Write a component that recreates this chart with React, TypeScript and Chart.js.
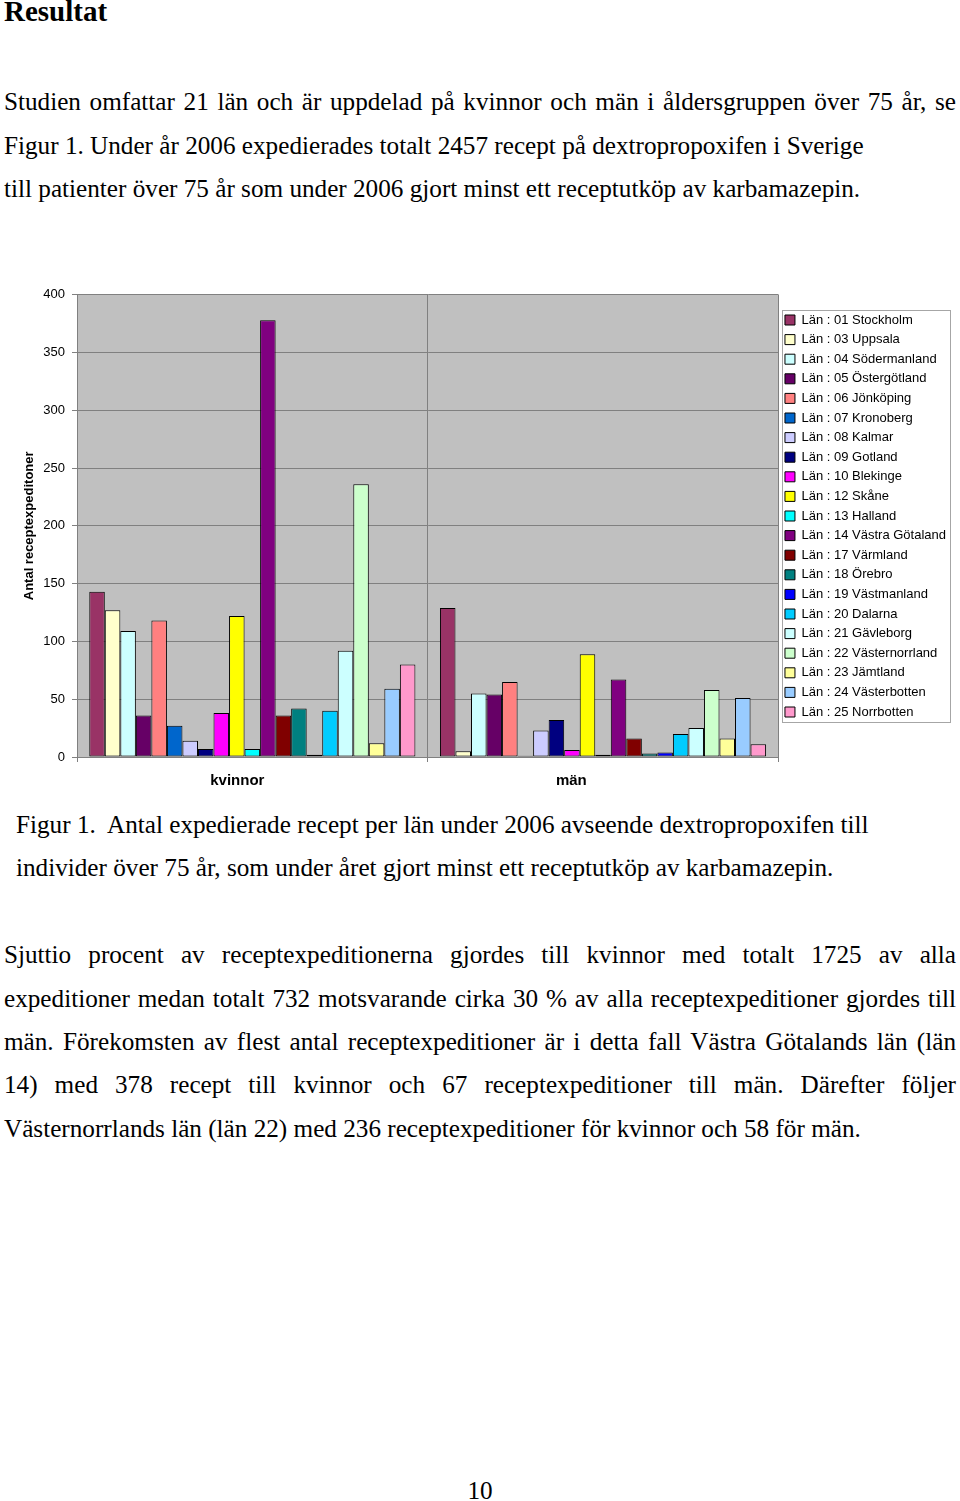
import React, { useEffect, useRef } from "react";
import { Chart, registerables } from "chart.js";

Chart.register(...registerables);

// ---------- chart data ----------
const categories = ["kvinnor", "män"];

const lanNames = [
  "Län : 01 Stockholm",
  "Län : 03 Uppsala",
  "Län : 04 Södermanland",
  "Län : 05 Östergötland",
  "Län : 06 Jönköping",
  "Län : 07 Kronoberg",
  "Län : 08 Kalmar",
  "Län : 09 Gotland",
  "Län : 10 Blekinge",
  "Län : 12 Skåne",
  "Län : 13 Halland",
  "Län : 14 Västra Götaland",
  "Län : 17 Värmland",
  "Län : 18 Örebro",
  "Län : 19 Västmanland",
  "Län : 20 Dalarna",
  "Län : 21 Gävleborg",
  "Län : 22 Västernorrland",
  "Län : 23 Jämtland",
  "Län : 24 Västerbotten",
  "Län : 25 Norrbotten",
];

const kvinnorValues = [143, 127, 109, 36, 118, 27, 14, 7, 38, 122, 7, 378, 36, 42, 2, 40, 92, 236, 12, 59, 80];
const manValues = [129, 5, 55, 54, 65, 1, 23, 32, 6, 89, 2, 67, 16, 3, 4, 20, 25, 58, 16, 51, 11];

const lanColors = [
  "#993366", "#FFFFCC", "#CCFFFF", "#660066", "#FF8080", "#0066CC", "#CCCCFF",
  "#000080", "#FF00FF", "#FFFF00", "#00FFFF", "#800080", "#800000", "#008080",
  "#0000FF", "#00CCFF", "#CCFFFF", "#CCFFCC", "#FFFF99", "#99CCFF", "#FF99CC",
];

const yMin = 0;
const yMax = 400;
const yStep = 50;
const yAxisTitle = "Antal receptexpeditoner";

// ---------- page text ----------
const heading = "Resultat";
const para1Lines = [
  { text: "Studien omfattar 21 län och är uppdelad på kvinnor och män i åldersgruppen över 75 år, se", justify: true },
  { text: "Figur 1. Under år 2006 expedierades totalt 2457 recept på dextropropoxifen i Sverige", justify: false },
  { text: "till patienter över 75 år som under 2006 gjort minst ett receptutköp av karbamazepin.", justify: false },
];
const captionLines = [
  "Figur 1.  Antal expedierade recept per län under 2006 avseende dextropropoxifen till",
  "individer över 75 år, som under året gjort minst ett receptutköp av karbamazepin.",
];
const para2Lines = [
  { text: "Sjuttio procent av receptexpeditionerna gjordes till kvinnor med totalt 1725 av alla", justify: true },
  { text: "expeditioner medan totalt 732 motsvarande cirka 30 % av alla receptexpeditioner gjordes till", justify: true },
  { text: "män. Förekomsten av flest antal receptexpeditioner är i detta fall Västra Götalands län (län", justify: true },
  { text: "14) med 378 recept till kvinnor och 67 receptexpeditioner till män. Därefter följer", justify: true },
  { text: "Västernorrlands län (län 22) med 236 receptexpeditioner för kvinnor och 58 för män.", justify: false },
];
const pageNumber = "10";

const SERIF = "'Liberation Serif', 'Times New Roman', serif";
const SANS = "'Liberation Sans', Arial, sans-serif";
const BODY_SIZE = 25.2;
const LINE_GAP = 43.4;

function TextLine(props: {
  text: string;
  baseline: number;
  left: number;
  width: number;
  size: number;
  bold?: boolean;
  justify?: boolean;
  center?: boolean;
}) {
  const { text, baseline, left, width, size, bold, justify, center } = props;
  const top = baseline - 0.8375 * size;
  return (
    <div
      style={{
        position: "absolute",
        left,
        top,
        width,
        height: size,
        lineHeight: `${size}px`,
        fontFamily: SERIF,
        fontSize: size,
        fontWeight: bold ? "bold" : "normal",
        color: "#000",
        whiteSpace: justify ? "normal" : "pre",
        textAlign: center ? "center" : justify ? "justify" : "left",
        textAlignLast: center ? "center" : justify ? "justify" : "left",
        overflow: "visible",
      } as React.CSSProperties}
    >
      {text}
    </div>
  );
}

const plotBackground = {
  id: "plotBackground",
  beforeDraw(chart: any) {
    const { ctx, chartArea } = chart;
    if (!chartArea) return;
    ctx.save();
    ctx.fillStyle = "#C0C0C0";
    ctx.fillRect(chartArea.left, chartArea.top, chartArea.right - chartArea.left, chartArea.bottom - chartArea.top);
    ctx.restore();
  },
};

const legendFrame = {
  id: "legendFrame",
  afterDraw(chart: any) {
    const lg = chart.legend;
    if (!lg || !lg.legendHitBoxes || !lg.legendHitBoxes.length) return;
    const hb = lg.legendHitBoxes;
    const left = Math.min(...hb.map((h: any) => h.left)) - 3;
    const right = Math.max(...hb.map((h: any) => h.left + h.width)) + 4;
    const top = hb[0].top - 3.5;
    const last = hb[hb.length - 1];
    const bottom = last.top + last.height + 3.5;
    const ctx = chart.ctx;
    ctx.save();
    ctx.strokeStyle = "#A6A6A6";
    ctx.lineWidth = 1;
    ctx.strokeRect(Math.round(left) + 0.5, Math.round(top) + 0.5, Math.round(right - left), Math.round(bottom - top));
    ctx.restore();
  },
};

// trailing padding (in no-break spaces) that nudges each centred category label to the left, as in the original
const labelNudge = [0, 8];

function BarChart() {
  const ref = useRef<HTMLCanvasElement | null>(null);
  useEffect(() => {
    if (!ref.current) return;
    Chart.defaults.font.family = SANS;
    const datasets = lanNames.map((name, i) => ({
      label: name,
      data: [kvinnorValues[i], manValues[i]],
      backgroundColor: lanColors[i],
      borderColor: "#000000",
      borderWidth: 1,
      borderSkipped: false as const,
      categoryPercentage: 0.93,
      barPercentage: 1,
    }));
    const chart = new Chart(ref.current, {
      type: "bar",
      data: { labels: categories, datasets },
      options: {
        responsive: false,
        animation: false,
        layout: { padding: { top: 24.7, left: 0, right: 4, bottom: 0 } },
        plugins: {
          legend: {
            position: "right",
            align: "start",
            title: { display: true, text: "", padding: { top: 0, bottom: 0.2 }, font: { size: 10 } },
            labels: {
              boxWidth: 10,
              boxHeight: 10,
              padding: 6.6,
              color: "#000",
              font: { size: 13, family: SANS },
            },
          },
          tooltip: { enabled: false },
        },
        scales: {
          x: {
            grid: { color: "#808080", offset: true, tickLength: 5, lineWidth: 1 },
            border: { color: "#808080" },
            ticks: {
              color: "#000",
              font: { size: 15, weight: "bold", family: SANS },
              padding: 10,
              labelOffset: -15,
              callback: (_v: any, i: number) => categories[i] + "\u00a0".repeat(labelNudge[i] || 0),
            },
            afterFit: (s: any) => {
              s.height = 43;
            },
          },
          y: {
            min: yMin,
            max: yMax,
            ticks: { stepSize: yStep, color: "#000", font: { size: 13, family: SANS }, padding: 7 },
            grid: { color: "#808080", tickLength: 5, lineWidth: 1 },
            border: { color: "#808080" },
            title: {
              display: true,
              text: yAxisTitle,
              color: "#000",
              font: { size: 13, weight: "bold", family: SANS },
              padding: { top: 22, bottom: 0 },
            },
            afterFit: (s: any) => {
              s.width = 77;
            },
          },
        },
      } as any,
      plugins: [plotBackground, legendFrame],
    });
    return () => chart.destroy();
  }, []);
  return (
    <canvas
      ref={ref}
      width={960}
      height={530}
      style={{ position: "absolute", left: 0, top: 270, width: 960, height: 530, display: "block" }}
    />
  );
}

export default function App() {
  return (
    <div
      style={{
        position: "absolute",
        left: 0,
        top: 0,
        width: 960,
        height: 1501,
        background: "#fff",
        overflow: "hidden",
      }}
    >
      <TextLine text={heading} baseline={21.7} left={4} width={400} size={29} bold />
      {para1Lines.map((l, i) => (
        <TextLine key={"p1" + i} text={l.text} baseline={110.5 + i * LINE_GAP} left={4} width={952} size={BODY_SIZE} justify={l.justify} />
      ))}
      <BarChart />
      {captionLines.map((t, i) => (
        <TextLine key={"c" + i} text={t} baseline={833.5 + i * 43} left={16} width={940} size={BODY_SIZE} />
      ))}
      {para2Lines.map((l, i) => (
        <TextLine key={"p2" + i} text={l.text} baseline={963.3 + i * LINE_GAP} left={4} width={952} size={BODY_SIZE} justify={l.justify} />
      ))}
      <TextLine text={pageNumber} baseline={1499} left={0} width={960} size={BODY_SIZE} center />
    </div>
  );
}
